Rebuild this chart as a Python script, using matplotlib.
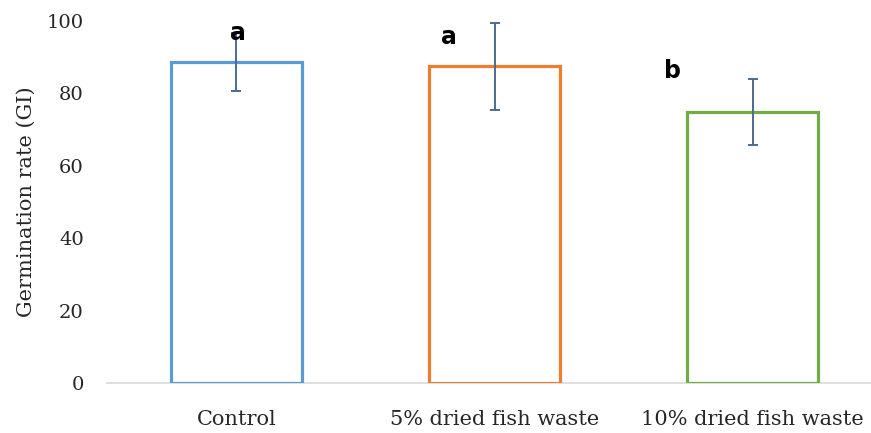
import matplotlib
matplotlib.use("Agg")
import matplotlib.pyplot as plt

categories = ["Control", "5% dried fish waste", "10% dried fish waste"]
means = [88.7, 87.5, 74.7]
errors = [8.0, 12.0, 9.1]
letters = ["a", "a", "b"]
edge_colors = ["#5B9BD5", "#ED7D31", "#70AD47"]

fig = plt.figure(figsize=(8.71, 4.33), dpi=100)
ax = fig.add_axes([0.1234, 0.1148, 0.8887, 0.8374])

x = list(range(len(categories)))
ax.bar(x, means, width=0.51, facecolor="white", edgecolor=edge_colors,
       linewidth=2.3, zorder=3)
ax.errorbar(x, means, yerr=errors, fmt="none", ecolor="#4F6A92",
            elinewidth=1.4, capsize=3.8, capthick=1.4, zorder=4)

# significance letters, placed slightly left of each error bar
letter_dx = [0.005, -0.176, -0.31]
letter_y = [96.6, 95.5, 86.0]
for xi, dx, ly, lt in zip(x, letter_dx, letter_y, letters):
    ax.text(xi + dx, ly, lt, ha="center", va="center", fontsize=17,
            fontweight="bold", family="DejaVu Sans", zorder=5)

ax.set_xlim(-0.5, 2.5)
ax.set_ylim(0, 100)
ax.set_yticks([0, 20, 40, 60, 80, 100])
ax.set_xticks(x)
ax.set_xticklabels(categories)
ax.tick_params(axis="both", length=0)
ax.tick_params(axis="x", pad=19, labelsize=15)
ax.tick_params(axis="y", pad=17, labelsize=14)
for lab in ax.get_xticklabels() + ax.get_yticklabels():
    lab.set_family("DejaVu Serif")
    lab.set_color("#262626")

for side in ("top", "right", "left"):
    ax.spines[side].set_visible(False)
ax.spines["bottom"].set_color("#D9D9D9")
ax.spines["bottom"].set_linewidth(1.2)
ax.spines["bottom"].set_zorder(1)

ax.set_ylabel("Germination rate (GI)", family="DejaVu Serif", fontsize=15,
              color="#262626", labelpad=8)

fig.savefig("out.png", dpi=100)
